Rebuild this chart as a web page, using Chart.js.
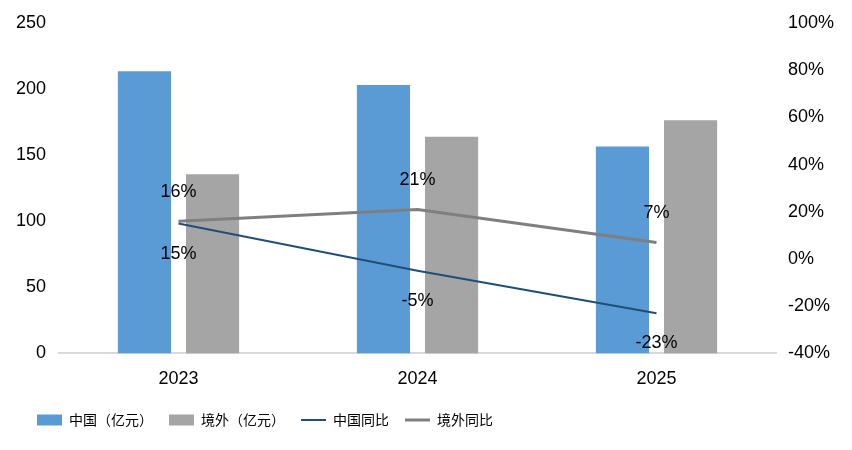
<!DOCTYPE html>
<html>
<head>
<meta charset="utf-8">
<script src="https://cdn.jsdelivr.net/npm/chart.js@4/dist/chart.umd.min.js"></script>
<style>
  html, body { margin: 0; padding: 0; background: #fff; }
  #wrap { width: 852px; height: 450px; }
</style>
</head>
<body>
<div id="wrap"><canvas id="chart"></canvas></div>
<script>
// categories and values
const years = ['2023', '2024', '2025'];
const chinaAmount = [213.5, 203, 156.5];    // 中国（亿元）
const overseasAmount = [135.5, 164, 176.5]; // 境外（亿元）
const chinaYoY = [15, -5, -23];             // 中国同比 (%)
const overseasYoY = [16, 21, 7];            // 境外同比 (%)

const tickFont = { family: 'Liberation Sans, Arial, sans-serif', size: 18 };

// draw the % labels next to the line points
const lineLabels = {
  id: 'lineLabels',
  afterDatasetsDraw(chart) {
    const ctx = chart.ctx;
    ctx.save();
    ctx.font = '18px "Liberation Sans", Arial, sans-serif';
    ctx.fillStyle = '#000';
    ctx.textAlign = 'center';
    ctx.textBaseline = 'middle';
    chart.data.datasets.forEach((ds, i) => {
      if (ds.type !== 'line') return;
      const meta = chart.getDatasetMeta(i);
      meta.data.forEach((pt, j) => {
        const dy = ds.labelPos === 'above' ? -29 : 30;
        ctx.fillText(ds.data[j] + '%', pt.x, pt.y + dy);
      });
    });
    ctx.restore();
  }
};

// legend in the original starts a bit further in from the left edge
const legendIndent = {
  id: 'legendIndent',
  afterLayout(chart) {
    if (chart.legend) chart.legend.left += 21;
  }
};

new Chart(document.getElementById('chart'), {
  data: {
    labels: years,
    datasets: [
      {
        type: 'bar',
        label: '中国（亿元）',
        data: chinaAmount,
        backgroundColor: '#5b9bd5',
        yAxisID: 'y',
        order: 2,
        barPercentage: 0.78,
        categoryPercentage: 0.57
      },
      {
        type: 'bar',
        label: '境外（亿元）',
        data: overseasAmount,
        backgroundColor: '#a5a5a5',
        yAxisID: 'y',
        order: 2,
        barPercentage: 0.78,
        categoryPercentage: 0.57
      },
      {
        type: 'line',
        label: '中国同比',
        data: chinaYoY,
        borderColor: '#1f4e79',
        backgroundColor: '#1f4e79',
        borderWidth: 2,
        pointRadius: 0,
        tension: 0,
        yAxisID: 'y1',
        order: 1,
        labelPos: 'below'
      },
      {
        type: 'line',
        label: '境外同比',
        data: overseasYoY,
        borderColor: '#7f7f7f',
        backgroundColor: '#7f7f7f',
        borderWidth: 3,
        pointRadius: 0,
        tension: 0,
        yAxisID: 'y1',
        order: 1,
        labelPos: 'above'
      }
    ]
  },
  options: {
    responsive: true,
    maintainAspectRatio: false,
    animation: false,
    layout: { padding: { top: 23, right: 0, left: 0, bottom: 13 } },
    plugins: {
      tooltip: { enabled: false },
      legend: {
        position: 'bottom',
        align: 'start',
        labels: {
          sort: (a, b) => a.datasetIndex - b.datasetIndex,
          usePointStyle: true,
          generateLabels(chart) {
            const items = Chart.defaults.plugins.legend.labels.generateLabels(chart);
            items.forEach(it => {
              const ds = chart.data.datasets[it.datasetIndex];
              it.pointStyle = ds.type === 'line' ? 'line' : 'rect';
            });
            return items;
          },
          pointStyleWidth: 25,
          boxHeight: 11,
          padding: 16,
          color: '#000',
          font: { family: '"Noto Sans CJK SC", sans-serif', size: 14 }
        }
      }
    },
    scales: {
      x: {
        grid: { display: false },
        border: { color: '#d9d9d9', width: 2 },
        ticks: { color: '#000', font: tickFont, padding: 7 }
      },
      y: {
        position: 'left',
        min: 0,
        max: 250,
        ticks: { stepSize: 50, color: '#000', font: tickFont, padding: 5 },
        grid: { display: false },
        border: { display: false },
        afterFit: scale => { scale.width = 59; }
      },
      y1: {
        position: 'right',
        min: -40,
        max: 100,
        ticks: {
          stepSize: 20,
          color: '#000',
          font: tickFont,
          padding: 4,
          callback: v => v + '%'
        },
        grid: { display: false },
        border: { display: false },
        afterFit: scale => { scale.width = 76; }
      }
    }
  },
  plugins: [lineLabels, legendIndent]
});
</script>
</body>
</html>
